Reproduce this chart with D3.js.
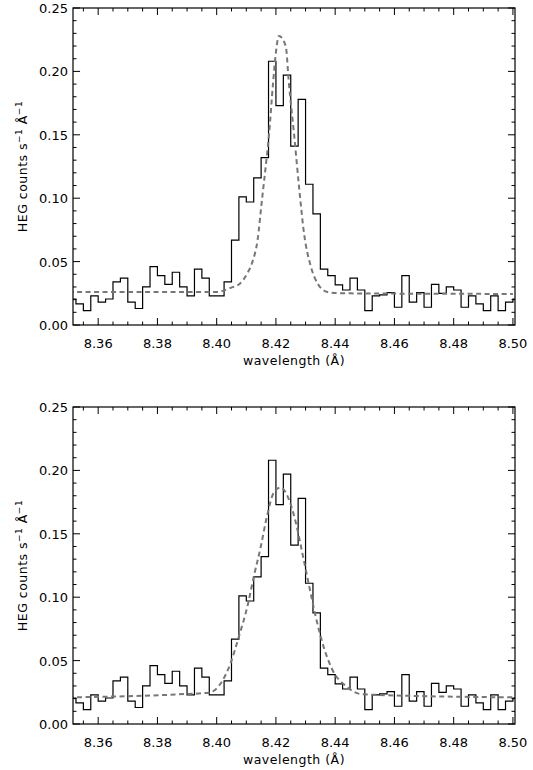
<!DOCTYPE html>
<html><head><meta charset="utf-8">
<script src="https://cdn.jsdelivr.net/npm/d3@7"></script>
<style>body{margin:0;background:#fff}text{font-family:"DejaVu Sans",sans-serif}</style>
</head><body><svg id="c" width="533" height="770"></svg>
<script>
// histogram bins: start wavelength 8.35, width 0.0025
const binStart = 8.35, binWidth = 0.0025;
const counts = [0.0205,0.0166,0.0113,0.023,0.018,0.0205,0.034,0.037,0.018,0.013,
0.030,0.046,0.039,0.032,0.0416,0.030,0.023,0.044,0.037,0.023,
0.023,0.034,0.067,0.101,0.097,0.116,0.132,0.208,0.173,0.197,
0.141,0.178,0.111,0.0876,0.044,0.039,0.0316,0.0276,0.037,0.0276,
0.0113,0.023,0.0237,0.0255,0.014,0.039,0.018,0.0255,0.014,0.032,
0.025,0.030,0.0276,0.014,0.023,0.0166,0.0113,0.023,0.0113,0.018,0.0205];
// fit curves (wavelength, value)
const fitTopX = [8.35,8.40,8.4051,8.4075,8.4104,8.4121,8.4138,8.4153,8.4166,8.4177,8.419,8.4200,8.4210,8.4233,8.4244,8.4261,8.4278,8.4295,8.4318,8.434,8.4374,8.4424,8.50];
const fitTopY = [0.026,0.026,0.0297,0.032,0.041,0.050,0.067,0.099,0.126,0.151,0.190,0.215,0.228,0.220,0.19,0.151,0.109,0.072,0.046,0.033,0.026,0.025,0.0245];
const fitBotX = [8.35,8.3873,8.3974,8.4019,8.4047,8.4075,8.4104,8.4126,8.4149,8.4168,8.4194,8.4216,8.4244,8.4267,8.4289,8.4312,8.4334,8.4357,8.439,8.4436,8.4492,8.50];
const fitBotY = [0.021,0.0234,0.0247,0.034,0.048,0.069,0.093,0.117,0.140,0.162,0.183,0.1865,0.177,0.159,0.135,0.109,0.085,0.064,0.043,0.030,0.0234,0.021];
const xTicks = [8.36,8.38,8.40,8.42,8.44,8.46,8.48,8.50];
const yTicks = [0.00,0.05,0.10,0.15,0.20,0.25];

const svg = d3.select("#c");
const L=73, R=515;
const x = d3.scaleLinear().domain([8.3515,8.5007]).range([L,R]);

function panel(top, fx, fy, id){
  const H = 317;
  const y = d3.scaleLinear().domain([0,0.25]).range([top+H, top]);
  const g = svg.append("g");
  g.append("clipPath").attr("id","cl"+id).append("rect")
   .attr("x",L).attr("y",top).attr("width",R-L).attr("height",H);
  const pts=[];
  counts.forEach((v,i)=>{const a=binStart+i*binWidth; pts.push([a,v],[a+binWidth,v]);});
  g.append("path").attr("clip-path",`url(#cl${id})`)
   .attr("d", d3.line().x(d=>x(d[0])).y(d=>y(d[1]))(pts))
   .attr("fill","none").attr("stroke","#000").attr("stroke-width",1.2);
  g.append("path").attr("clip-path",`url(#cl${id})`)
   .attr("d", d3.line().curve(d3.curveMonotoneX).x((d,i)=>x(fx[i])).y((d,i)=>y(fy[i]))(fx))
   .attr("fill","none").attr("stroke","#777").attr("stroke-width",2).attr("stroke-dasharray","5,3.5");
  g.append("rect").attr("x",L).attr("y",top).attr("width",R-L).attr("height",H)
   .attr("fill","none").attr("stroke","#000").attr("stroke-width",1.2);
  const tk = g.append("g").attr("stroke","#000").attr("stroke-width",1);
  d3.range(0,31).map(i=>8.35+i*0.005).filter(v=>v>8.3515&&v<=8.5001).forEach(v=>{
    const major = Math.abs(v*50-Math.round(v*50))<1e-6;
    const len = major?7:3.5;
    tk.append("line").attr("x1",x(v)).attr("x2",x(v)).attr("y1",top+H).attr("y2",top+H-len);
    tk.append("line").attr("x1",x(v)).attr("x2",x(v)).attr("y1",top).attr("y2",top+len);
  });
  d3.range(0,26).map(i=>i*0.01).forEach((v,i)=>{
    const len = i%5===0?7:3.5;
    tk.append("line").attr("x1",L).attr("x2",L+len).attr("y1",y(v)).attr("y2",y(v));
    tk.append("line").attr("x1",R).attr("x2",R-len).attr("y1",y(v)).attr("y2",y(v));
  });
  xTicks.forEach(v=>g.append("text").attr("x",x(v)).attr("y",top+H+23).attr("text-anchor","middle")
    .attr("font-size",13).text(v.toFixed(2)));
  yTicks.forEach(v=>g.append("text").attr("x",L-5).attr("y",y(v)+5).attr("text-anchor","end")
    .attr("font-size",13).text(v.toFixed(2)));
  g.append("text").attr("x",(L+R)/2).attr("y",top+H+40).attr("text-anchor","middle")
    .attr("font-size",12.5).attr("letter-spacing",0.5).text("wavelength (Å)");
  const yl = g.append("text").attr("transform",`translate(27,${top+H/2}) rotate(-90)`)
    .attr("text-anchor","middle").attr("font-size",12.5).attr("letter-spacing",0.5);
  yl.append("tspan").text("HEG counts s");
  yl.append("tspan").attr("dy",-5).attr("font-size",9).text("−1");
  yl.append("tspan").attr("dy",5).text(" Å");
  yl.append("tspan").attr("dy",-5).attr("font-size",9).text("−1");
}
panel(8, fitTopX, fitTopY, "a");
panel(407, fitBotX, fitBotY, "b");
</script></body></html>
